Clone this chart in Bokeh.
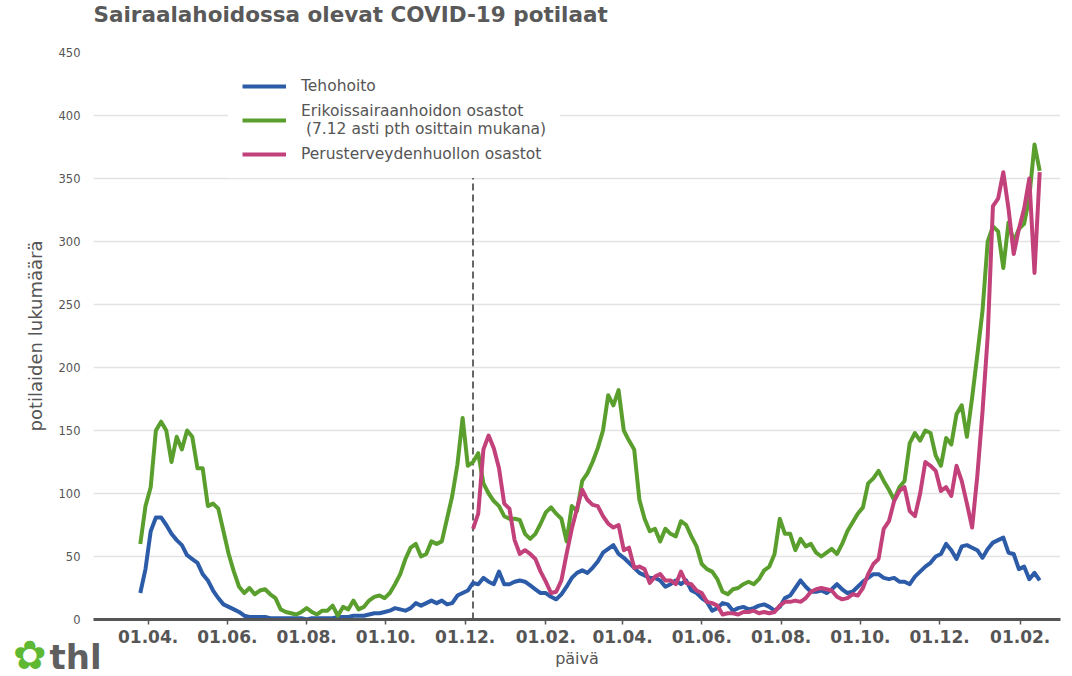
import numpy as np
import pandas as pd
from bokeh.plotting import figure
from bokeh.models import (Legend, LegendItem, FixedTicker, DatetimeTickFormatter,
                          Range1d, Div)
from bokeh.layouts import column
from bokeh.embed import file_html
from bokeh.resources import INLINE

# ---------------- data ----------------
start_date = "2020-03-26"
step_days = 4

tehohoito = [21, 40, 70, 81, 81, 75, 68, 63, 59, 51,
             48, 45, 36, 31, 23, 17, 12, 10, 8, 6,
             3, 2, 2, 2, 2, 1, 1, 1, 1, 1,
             1, 1, 0, 1, 1, 1, 1, 1, 2, 2,
             2, 3, 3, 3, 4, 5, 5, 6, 7, 9,
             8, 7, 9, 13, 11, 13, 15, 13, 15, 12,
             13, 19, 21, 23, 29, 28, 33, 30, 28, 38,
             28, 28, 30, 31, 30, 27, 24, 21, 21, 18,
             16, 20, 26, 33, 37, 39, 37, 41, 46, 53,
             56, 59, 52, 49, 45, 41, 37, 35, 33, 33,
             31, 26, 28, 31, 28, 31, 23, 21, 17, 14,
             7, 9, 13, 12, 7, 9, 10, 8, 9, 11,
             12, 10, 7, 10, 17, 19, 25, 31, 26, 22,
             22, 23, 21, 24, 28, 24, 21, 22, 26, 30,
             33, 36, 36, 33, 32, 33, 30, 30, 28, 34,
             38, 42, 45, 50, 52, 60, 55, 48, 58, 59,
             57, 55, 49, 56, 61, 63, 65, 53, 52, 40,
             42, 32, 37, 31]

erikoissairaanhoito = [60, 90, 105, 150, 157, 150, 125, 145, 135, 150,
                       145, 120, 120, 90, 92, 88, 70, 52, 38, 26,
                       21, 25, 20, 23, 24, 20, 17, 8, 6, 5,
                       4, 6, 9, 6, 4, 7, 7, 11, 3, 10,
                       8, 15, 8, 10, 15, 18, 19, 17, 21, 28,
                       36, 48, 57, 60, 50, 52, 62, 60, 62, 80,
                       98, 123, 160, 122, 125, 132, 108, 100, 94, 90,
                       82, 80, 80, 79, 68, 64, 68, 76, 85, 89,
                       84, 80, 62, 90, 86, 110, 116, 125, 136, 150,
                       178, 170, 182, 150, 142, 135, 95, 80, 70, 72,
                       62, 72, 68, 66, 78, 75, 66, 58, 44, 40,
                       38, 32, 22, 20, 24, 25, 28, 30, 28, 32,
                       39, 42, 52, 80, 68, 68, 55, 64, 58, 60,
                       53, 50, 53, 56, 52, 60, 70, 77, 84, 89,
                       108, 112, 118, 110, 103, 95, 105, 110, 140, 148,
                       142, 150, 148, 130, 122, 144, 139, 163, 170, 145,
                       176, 210, 245, 300, 312, 308, 279, 315, 300, 310,
                       314, 335, 377, 356]

perusterveydenhuolto = [None] * 64 + [
    72, 84, 135, 146, 136, 120, 92, 88, 63, 52,
    55, 52, 48, 38, 30, 21, 22, 31, 52, 72,
    88, 103, 95, 91, 90, 82, 76, 73, 75, 55,
    57, 41, 42, 40, 29, 34, 36, 31, 31, 28,
    38, 29, 28, 23, 21, 14, 13, 11, 4, 5,
    5, 4, 6, 6, 7, 5, 6, 5, 6, 11,
    14, 14, 15, 14, 17, 22, 24, 25, 24, 23,
    18, 16, 17, 20, 19, 25, 36, 44, 48, 72,
    78, 94, 102, 105, 86, 82, 100, 125, 122, 118,
    102, 105, 98, 122, 110, 92, 73, 114, 165, 225,
    328, 334, 355, 326, 290, 310, 326, 350, 275, 355]

series_labels = ["Tehohoito",
                 "Erikoissairaanhoidon osastot\n (7.12 asti pth osittain mukana)",
                 "Perusterveydenhuollon osastot"]
series_colors = ["#2c5ca8", "#5a9f2e", "#c2417a"]

tick_dates = ["2020-04-01", "2020-06-01", "2020-08-01", "2020-10-01", "2020-12-01",
              "2021-02-01", "2021-04-01", "2021-06-01", "2021-08-01", "2021-10-01",
              "2021-12-01", "2022-02-01"]
y_ticks = [0, 50, 100, 150, 200, 250, 300, 350, 400, 450]

cutoff_date = "2020-12-07"
cutoff_top = 352

x_start = "2020-02-19"
x_end = "2022-03-04"

# ---------------- figure ----------------
dates = pd.date_range(start_date, periods=len(tehohoito), freq=f"{step_days}D")
series = [np.array(tehohoito, dtype=float),
          np.array(erikoissairaanhoito, dtype=float),
          np.array([np.nan if v is None else v for v in perusterveydenhuolto], dtype=float)]

TXT = "#555555"
FONT = "DejaVu Sans"

p = figure(width=1072, height=676, x_axis_type="datetime",
           output_backend="svg", toolbar_location=None,
           x_range=Range1d(pd.Timestamp(x_start), pd.Timestamp(x_end)),
           y_range=Range1d(0, 450),
           min_border_left=93, min_border_right=12, min_border_top=51, min_border_bottom=57,
           title="Sairaalahoidossa olevat COVID-19 potilaat\n")

p.title.text_font = FONT
p.title.text_font_size = "21.5px"
p.title.text_font_style = "bold"
p.title.text_color = "#595959"
p.title.text_line_height = 0.93
p.title.offset = 0
p.title.vertical_align = "top"
p.title.standoff = 2

p.outline_line_color = None
p.background_fill_color = "white"
p.border_fill_color = "white"

# grid
p.xgrid.grid_line_color = None
p.ygrid.grid_line_color = "#e3e3e3"
p.ygrid.grid_line_width = 1.5

# y axis
p.yaxis.ticker = FixedTicker(ticks=y_ticks)
p.yaxis.axis_line_color = None
p.yaxis.major_tick_line_color = None
p.yaxis.minor_tick_line_color = None
p.yaxis.major_label_text_font = FONT
p.yaxis.major_label_text_font_size = "11.5px"
p.yaxis.major_label_text_color = TXT
p.yaxis.major_label_standoff = 7
p.yaxis.axis_label = "potilaiden lukumäärä"
p.yaxis.axis_label_text_font = FONT
p.yaxis.axis_label_text_font_size = "18px"
p.yaxis.axis_label_text_font_style = "normal"
p.yaxis.axis_label_text_color = TXT
p.yaxis.axis_label_standoff = 10

# x axis
tick_ms = [pd.Timestamp(d).value // 10**6 for d in tick_dates]
p.xaxis.ticker = FixedTicker(ticks=tick_ms)
p.xaxis.formatter = DatetimeTickFormatter(days="%d.%m.", months="%d.%m.", years="%d.%m.")
p.xaxis.axis_line_color = "#555555"
p.xaxis.axis_line_width = 3
p.xaxis.major_tick_line_color = "#555555"
p.xaxis.major_tick_line_width = 1.5
p.xaxis.major_tick_out = 5
p.xaxis.major_tick_in = 0
p.xaxis.minor_tick_line_color = None
p.xaxis.major_label_text_font = FONT
p.xaxis.major_label_text_font_size = "17px"
p.xaxis.major_label_text_font_style = "bold"
p.xaxis.major_label_text_color = TXT
p.xaxis.major_label_standoff = 5
p.xaxis.axis_label = "päivä"
p.xaxis.axis_label_text_font = FONT
p.xaxis.axis_label_text_font_size = "16px"
p.xaxis.axis_label_text_font_style = "normal"
p.xaxis.axis_label_text_color = TXT
p.xaxis.axis_label_standoff = 3

# dashed cutoff line
p.segment(x0=[pd.Timestamp(cutoff_date)], y0=[0], x1=[pd.Timestamp(cutoff_date)], y1=[cutoff_top],
          line_color="#666666", line_width=2, line_dash="7 4")

renderers = []
for vals, col in zip(series, series_colors):
    r = p.line(dates, vals, line_color=col, line_width=4, line_join="round")
    renderers.append(r)

legend = Legend(items=[LegendItem(label=lab, renderers=[r]) for lab, r in zip(series_labels, renderers)],
                location=(135, 441))
legend.label_text_font = FONT
legend.label_text_font_size = "15.5px"
legend.label_text_color = TXT
legend.glyph_width = 44
legend.glyph_height = 20
legend.label_standoff = 15
legend.spacing = 6
legend.padding = 14
legend.margin = 0
legend.border_line_alpha = 0
legend.background_fill_color = "white"
legend.background_fill_alpha = 1
p.add_layout(legend, "center")

# thl logo (outside the plot frame)
logo = Div(text=('<span style="color:#5fb832;font-size:40px;line-height:1;font-family:DejaVu Sans;">&#10047;</span>'
                 '<span style="color:#5f5f5f;font-size:34px;font-weight:bold;line-height:1;'
                 'font-family:DejaVu Sans;margin-left:3px;">thl</span>'),
           styles={"position": "absolute", "left": "8px", "top": "630px"})

layout = column(p, logo)
open("out.html", "w").write(file_html(layout, INLINE))
